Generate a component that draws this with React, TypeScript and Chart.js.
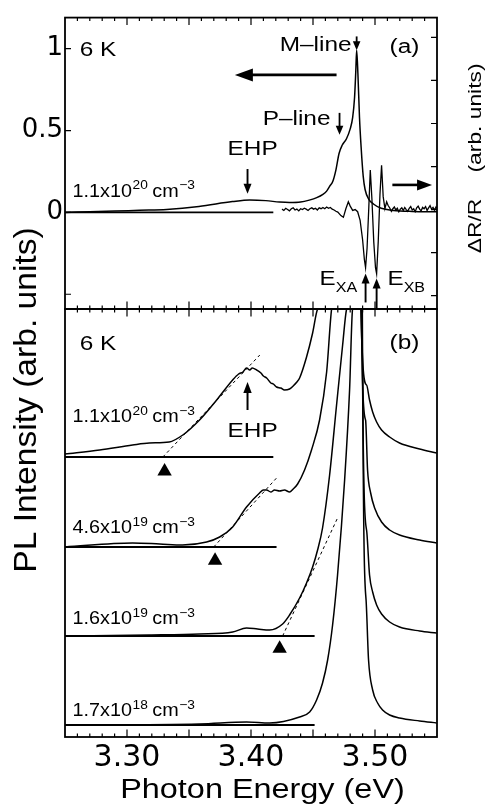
import React, { useEffect, useRef } from 'react';
import { Chart, registerables } from 'chart.js';

Chart.register(...registerables);

// ---------- axes ----------
const ENERGY_MIN = 3.25;
const ENERGY_MAX = 3.55;
const energyTickLabels = [3.3, 3.4, 3.5];

const panelALeftRange = [-0.59, 1.19];
const panelALeftTickLabels = [0, 0.5, 1];
const panelALeftTickMarks = [-0.5, 0, 0.5, 1];
const panelARightRange = [-2.31, 4.46];
const panelARightTickMarks = [-2, -1, 0, 1, 2, 3, 4];
const panelBRange = [0, 4.28];

// ---------- panel (a) ----------
// PL spectrum, 1.1x10^20 cm^-3 : [energy eV, intensity]
const plSpectrumA: [number, number][] = [
  [3.25, 0.0], [3.27, 0.004], [3.29, 0.008], [3.31, 0.013], [3.332, 0.018], [3.358, 0.036],
  [3.385, 0.066], [3.399, 0.076], [3.412, 0.072], [3.423, 0.063], [3.431, 0.06], [3.44, 0.063],
  [3.447, 0.075], [3.453, 0.09], [3.458, 0.11], [3.461, 0.13], [3.4635, 0.16], [3.466, 0.19],
  [3.4685, 0.26], [3.471, 0.36], [3.4735, 0.41], [3.477, 0.45], [3.48, 0.51], [3.482, 0.58],
  [3.4835, 0.7], [3.4845, 0.86], [3.4852, 0.99], [3.4862, 0.85], [3.4875, 0.58], [3.4888, 0.4],
  [3.4905, 0.22], [3.492, 0.14], [3.495, 0.08], [3.499, 0.05], [3.505, 0.025], [3.515, 0.012],
  [3.53, 0.006], [3.55, 0.004],
];
const plZeroLineA: [number, number][] = [[3.25, 0], [3.418, 0]];
// Reflectance modulation dR/R : [energy eV, value]
const reflectanceA: [number, number][] = [
  [3.425, 0.01], [3.4265, -0.02], [3.428, 0.03], [3.4295, 0.0], [3.431, -0.03], [3.4325, 0.02],
  [3.434, 0.04], [3.4355, -0.01], [3.437, 0.01], [3.4385, -0.03], [3.44, 0.02], [3.4415, 0.0],
  [3.443, 0.03], [3.4445, 0.01], [3.446, -0.02], [3.4475, 0.02], [3.449, 0.04], [3.4505, 0.01],
  [3.452, 0.03], [3.4535, -0.01], [3.455, 0.04], [3.4565, 0.02], [3.458, 0.05], [3.4595, 0.02],
  [3.461, 0.06], [3.4625, 0.03], [3.464, 0.05], [3.4655, 0.01], [3.467, -0.01], [3.4685, -0.04],
  [3.47, -0.06], [3.4725, -0.14], [3.4745, -0.18], [3.4765, 0.02], [3.4785, 0.18], [3.48, 0.08],
  [3.482, -0.02], [3.484, 0.0], [3.486, -0.05], [3.488, -0.25], [3.49, -0.7], [3.4914, -1.15],
  [3.4924, -1.35], [3.4936, -0.9], [3.495, 0.05], [3.4962, 0.92], [3.4975, 0.25], [3.499, -0.75],
  [3.5004, -1.35], [3.5013, -1.49], [3.5026, -0.75], [3.504, 0.35], [3.5053, 1.03], [3.5066, 0.3],
  [3.508, 0.02], [3.5094, 0.18], [3.5105, 0.1], [3.512, 0.03], [3.5132, -0.04], [3.5144, 0.02],
  [3.5156, 0.06], [3.5168, -0.01], [3.518, 0.03], [3.5192, -0.05], [3.5204, 0.01], [3.5216, 0.04],
  [3.5228, -0.02], [3.524, 0.05], [3.5252, 0.0], [3.5264, -0.04], [3.5276, 0.03], [3.5288, 0.07],
  [3.53, -0.01], [3.5312, 0.02], [3.5324, -0.05], [3.5336, 0.04], [3.5348, 0.08], [3.536, 0.01],
  [3.5372, -0.03], [3.5384, 0.05], [3.5396, 0.02], [3.5408, 0.07], [3.542, -0.02], [3.5432, 0.04],
  [3.5444, 0.09], [3.5456, 0.01], [3.5468, 0.05], [3.548, -0.01], [3.5492, 0.06], [3.55, 0.03],
];

// ---------- panel (b) ----------
const densityMantissa = ['1.1', '4.6', '1.6', '1.7'];
const densityExponent = ['20', '19', '19', '18'];
const densityLabelY = [3.15, 2.04, 1.13, 0.21];
const spectrumOffsetsB = [2.8, 1.9, 1.01, 0.12];
const baselineEndB = [3.418, 3.4206, 3.4513, 3.4513];

const spectrumB1: [number, number][] = [
  [3.25, 0.03], [3.278, 0.07], [3.3045, 0.12], [3.318, 0.14], [3.334, 0.15], [3.345, 0.22],
  [3.3585, 0.37], [3.3723, 0.57], [3.3852, 0.77], [3.39, 0.83], [3.3935, 0.85], [3.3964, 0.89],
  [3.399, 0.87], [3.401, 0.89], [3.4045, 0.87], [3.408, 0.84], [3.41, 0.81], [3.4126, 0.79],
  [3.416, 0.74], [3.418, 0.73], [3.4206, 0.7], [3.424, 0.69], [3.427, 0.67], [3.4311, 0.68],
  [3.434, 0.71], [3.437, 0.75], [3.4392, 0.79], [3.4448, 1.0], [3.4497, 1.24], [3.4537, 1.48],
  [3.4577, 1.77], [3.4865, 30], [3.4876, 2.07], [3.4932, 0.72], [3.4956, 0.57], [3.4981, 0.45],
  [3.5013, 0.35], [3.5053, 0.27], [3.5118, 0.2], [3.5198, 0.14], [3.536, 0.08], [3.5497, 0.04],
];
const spectrumB2: [number, number][] = [
  [3.25, 0.0], [3.3045, 0.04], [3.3263, 0.03], [3.3448, 0.02], [3.3642, 0.05], [3.3747, 0.1],
  [3.3852, 0.2], [3.3964, 0.4], [3.4069, 0.54], [3.41, 0.57], [3.4126, 0.57], [3.416, 0.55],
  [3.419, 0.57], [3.4231, 0.56], [3.427, 0.57], [3.4311, 0.55], [3.434, 0.58], [3.4376, 0.63],
  [3.4432, 0.77], [3.4488, 0.97], [3.4553, 1.27], [3.461, 1.75], [3.465, 2.38], [3.4674, 2.77],
  [3.487, 30], [3.4884, 2.97], [3.4924, 1.27], [3.494, 0.77], [3.4965, 0.54], [3.4997, 0.39],
  [3.5053, 0.25], [3.5118, 0.17], [3.5198, 0.12], [3.536, 0.07], [3.5497, 0.04],
];
const spectrumB3: [number, number][] = [
  [3.25, 0.0], [3.318, 0.01], [3.3585, 0.02], [3.3852, 0.04], [3.3964, 0.08], [3.4053, 0.07],
  [3.415, 0.06], [3.4255, 0.12], [3.4311, 0.21], [3.4392, 0.38], [3.4448, 0.53], [3.4497, 0.69],
  [3.4537, 0.86], [3.4577, 1.08], [3.4634, 1.61], [3.469, 2.31], [3.4739, 2.91], [3.4771, 3.27],
  [3.4787, 3.56], [3.488, 30], [3.4892, 3.86], [3.4932, 1.06], [3.4956, 0.61], [3.4981, 0.44],
  [3.5013, 0.31], [3.5053, 0.22], [3.5118, 0.14], [3.5198, 0.09], [3.536, 0.05], [3.5497, 0.03],
];
const spectrumB4: [number, number][] = [
  [3.25, 0.0], [3.3585, 0.01], [3.3964, 0.03], [3.415, 0.02], [3.4392, 0.08], [3.4473, 0.13],
  [3.4529, 0.25], [3.4577, 0.42], [3.4618, 0.65], [3.4658, 1.0], [3.4698, 1.5], [3.4755, 2.45],
  [3.4795, 3.35], [3.4819, 4.16], [3.4835, 4.55], [3.4885, 30], [3.4896, 4.75], [3.4928, 1.25],
  [3.4948, 0.65], [3.4981, 0.35], [3.5021, 0.22], [3.5061, 0.15], [3.5118, 0.1], [3.5198, 0.07],
  [3.536, 0.04], [3.5497, 0.02],
];
const spectraB = [spectrumB1, spectrumB2, spectrumB3, spectrumB4];

const tangentB: [number, number][][] = [
  [[3.3289, 0], [3.4071, 1.02]],
  [[3.3699, 0], [3.4206, 0.69]],
  [[3.4255, 0], [3.4698, 1.18]],
];
const onsetEnergyB = [3.3303, 3.371, 3.4231];
const onsetMarkerB = [-0.143, -0.135, -0.125];

// ---------- drawing helpers ----------
const FONT = '"Liberation Sans", Arial, Helvetica, sans-serif';

function drawText(ctx: CanvasRenderingContext2D, s: string, x: number, y: number, size: number,
  sx = 1.2, align: CanvasTextAlign = 'left', rot = 0): number {
  ctx.save();
  ctx.font = `${size}px ${FONT}`;
  const w = ctx.measureText(s).width * sx;
  ctx.translate(x, y);
  if (rot) ctx.rotate(rot);
  ctx.scale(sx, 1);
  ctx.textAlign = align;
  ctx.textBaseline = 'alphabetic';
  ctx.fillStyle = '#000';
  ctx.fillText(s, 0, 0);
  ctx.restore();
  return w;
}

function drawDensity(ctx: CanvasRenderingContext2D, x: number, y: number, mant: string, exp: string) {
  let cx = x;
  cx += drawText(ctx, `${mant}x10`, cx, y, 18, 1.1);
  cx += drawText(ctx, exp, cx + 0.5, y - 7.5, 12.5, 1.1) + 5;
  cx += drawText(ctx, 'cm', cx, y, 18, 1.1);
  drawText(ctx, '\u22123', cx + 0.5, y - 7.5, 12.5, 1.1);
}

function drawArrow(ctx: CanvasRenderingContext2D, x1: number, y1: number, x2: number, y2: number,
  head: number, half: number, lw: number) {
  const a = Math.atan2(y2 - y1, x2 - x1);
  const c = Math.cos(a), s = Math.sin(a);
  ctx.save();
  ctx.strokeStyle = '#000';
  ctx.fillStyle = '#000';
  ctx.lineWidth = lw;
  ctx.beginPath();
  ctx.moveTo(x1, y1);
  ctx.lineTo(x2 - c * head * 0.8, y2 - s * head * 0.8);
  ctx.stroke();
  ctx.beginPath();
  ctx.moveTo(x2, y2);
  ctx.lineTo(x2 - c * head - s * half, y2 - s * head + c * half);
  ctx.lineTo(x2 - c * head + s * half, y2 - s * head - c * half);
  ctx.closePath();
  ctx.fill();
  ctx.restore();
}

function energyTicks(ctx: CanvasRenderingContext2D, px: (e: number) => number, yEdge: number, dir: number) {
  const i0 = Math.round(ENERGY_MIN * 100) + 1;
  const i1 = Math.round(ENERGY_MAX * 100);
  for (let i = i0; i < i1; i++) {
    const len = i % 5 === 0 ? 7.5 : 3.5;
    const xx = px(i / 100);
    ctx.moveTo(xx, yEdge);
    ctx.lineTo(xx, yEdge + dir * len);
  }
}

const toXY = (arr: [number, number][], off = 0) => arr.map(([x, y]) => ({ x, y: y + off }));

const lineDs = (data: any[], extra: any = {}) => ({
  data,
  borderColor: '#000',
  backgroundColor: '#000',
  borderWidth: 1.5,
  pointRadius: 0,
  fill: false,
  tension: 0,
  ...extra,
});

// ---------- plugins ----------
const panelAPlugin = {
  id: 'panelA',
  afterDraw(chart: any) {
    const { ctx, chartArea: a } = chart;
    const x = chart.scales.x, y = chart.scales.y, yr = chart.scales.yR;
    const px = (e: number) => x.getPixelForValue(e);
    const py = (v: number) => y.getPixelForValue(v);
    ctx.save();
    ctx.strokeStyle = '#000';
    ctx.lineWidth = 1.8;
    ctx.strokeRect(a.left, a.top, a.right - a.left, a.bottom - a.top);
    ctx.lineWidth = 1.2;
    ctx.beginPath();
    energyTicks(ctx, px, a.top, 1);
    energyTicks(ctx, px, a.bottom, -1);
    panelALeftTickMarks.forEach((v) => { ctx.moveTo(a.left, py(v)); ctx.lineTo(a.left + 6, py(v)); });
    panelARightTickMarks.forEach((v) => {
      const yy = yr.getPixelForValue(v);
      ctx.moveTo(a.right, yy); ctx.lineTo(a.right - 6, yy);
    });
    ctx.stroke();
    ctx.restore();

    drawText(ctx, '6 K', px(3.2618), py(0.955), 20, 1.22);
    drawText(ctx, '(a)', px(3.5117), py(0.974), 20, 1.22);
    drawText(ctx, 'M\u2013line', px(3.4231), py(0.986), 20, 1.22);
    drawText(ctx, 'P\u2013line', px(3.4094), py(0.535), 20, 1.22);
    drawText(ctx, 'EHP', px(3.3811), py(0.348), 20, 1.22);
    drawDensity(ctx, px(3.2561), py(0.096), densityMantissa[0], densityExponent[0]);

    const wA = drawText(ctx, 'E', px(3.4553), py(-0.446), 21, 1.15);
    drawText(ctx, 'XA', px(3.4553) + wA, py(-0.446) + 7, 14, 1.15);
    const wB = drawText(ctx, 'E', px(3.5101), py(-0.446), 21, 1.15);
    drawText(ctx, 'XB', px(3.5101) + wB, py(-0.446) + 7, 14, 1.15);

    drawArrow(ctx, px(3.469), py(0.84), px(3.387), py(0.84), 18, 6.5, 2.6);
    drawArrow(ctx, px(3.514), py(0.168), px(3.546), py(0.168), 15, 5.5, 2.6);
    drawArrow(ctx, px(3.4852), py(1.075), px(3.4852), py(0.99), 9, 3.8, 1.8);
    drawArrow(ctx, px(3.4714), py(0.608), px(3.4714), py(0.475), 9, 3.8, 1.8);
    drawArrow(ctx, px(3.3972), py(0.265), px(3.3972), py(0.114), 10, 4, 1.9);
    drawArrow(ctx, px(3.4924), py(-0.55), px(3.4924), py(-0.373), 10, 4, 1.9);
    drawArrow(ctx, px(3.5013), py(-0.59), px(3.5013), py(-0.403), 10, 4, 1.9);

    drawText(ctx, '(arb. units)', 481, 118, 19, 1.2, 'center', -Math.PI / 2);
    drawText(ctx, '\u0394R/R', 481, 226, 19, 1.2, 'center', -Math.PI / 2);
    drawText(ctx, 'PL Intensity (arb. units)', 36, 400, 32, 1.05, 'center', -Math.PI / 2);
  },
};

const panelBPlugin = {
  id: 'panelB',
  afterDraw(chart: any) {
    const { ctx, chartArea: a } = chart;
    const x = chart.scales.x, y = chart.scales.y;
    const px = (e: number) => x.getPixelForValue(e);
    const py = (v: number) => y.getPixelForValue(v);
    ctx.save();
    ctx.strokeStyle = '#000';
    ctx.lineWidth = 1.8;
    ctx.strokeRect(a.left, a.top, a.right - a.left, a.bottom - a.top);
    ctx.lineWidth = 1.2;
    ctx.beginPath();
    energyTicks(ctx, px, a.top, 1);
    energyTicks(ctx, px, a.bottom, -1);
    ctx.stroke();
    ctx.restore();

    drawText(ctx, '6 K', px(3.2618), py(3.87), 20, 1.22);
    drawText(ctx, '(b)', px(3.5117), py(3.88), 20, 1.22);
    densityMantissa.forEach((m, i) => drawDensity(ctx, px(3.2561), py(densityLabelY[i]), m, densityExponent[i]));
    drawText(ctx, 'EHP', px(3.3811), py(3.0), 20, 1.22);
    drawArrow(ctx, px(3.3972), py(3.27), px(3.3972), py(3.55), 11, 4.2, 2);

    drawText(ctx, 'Photon Energy (eV)', 262.5, 798, 27, 1.2, 'center');
  },
};

// ---------- component ----------
export default function App() {
  const refA = useRef<HTMLCanvasElement>(null);
  const refB = useRef<HTMLCanvasElement>(null);

  useEffect(() => {
    const common = {
      responsive: false,
      animation: false as const,
      devicePixelRatio: 1,
      events: [] as any[],
    };

    const chartA = new Chart(refA.current as HTMLCanvasElement, {
      type: 'line',
      data: {
        datasets: [
          lineDs(toXY(plZeroLineA), { borderWidth: 1.8, yAxisID: 'y' }),
          lineDs(toXY(plSpectrumA), { cubicInterpolationMode: 'monotone', yAxisID: 'y' }),
          lineDs(toXY(reflectanceA), { yAxisID: 'yR', borderWidth: 1.3 }),
        ],
      },
      options: {
        ...common,
        layout: { padding: { top: 13, bottom: 503, left: 0, right: 49 } },
        plugins: { legend: { display: false }, tooltip: { enabled: false } },
        scales: {
          x: { type: 'linear', min: ENERGY_MIN, max: ENERGY_MAX, display: false },
          y: {
            type: 'linear',
            position: 'left',
            min: panelALeftRange[0],
            max: panelALeftRange[1],
            afterFit: (s: any) => { s.width = 65; },
            afterBuildTicks: (s: any) => { s.ticks = panelALeftTickLabels.map((v) => ({ value: v })); },
            ticks: {
              callback: (v: any) => String(v),
              font: { family: '"DejaVu Sans", sans-serif', size: 26 },
              color: '#000',
              padding: 2,
            },
            grid: { display: false, drawTicks: false },
            border: { display: false },
          },
          yR: {
            type: 'linear',
            position: 'right',
            min: panelARightRange[0],
            max: panelARightRange[1],
            display: false,
          },
        },
      } as any,
      plugins: [panelAPlugin],
    });

    const datasetsB: any[] = [];
    spectraB.forEach((sp, i) => {
      const off = spectrumOffsetsB[i];
      datasetsB.push(lineDs([{ x: ENERGY_MIN, y: off }, { x: baselineEndB[i], y: off }], { borderWidth: 1.8 }));
      datasetsB.push(lineDs(toXY(sp, off), { cubicInterpolationMode: 'monotone' }));
    });
    tangentB.forEach((t, i) => {
      datasetsB.push(lineDs(toXY(t, spectrumOffsetsB[i]), { borderWidth: 1, borderDash: [3, 3] }));
    });
    datasetsB.push({
      data: onsetEnergyB.map((e, i) => ({ x: e, y: spectrumOffsetsB[i] + onsetMarkerB[i] })),
      showLine: false,
      pointStyle: 'triangle',
      pointRadius: 8.3,
      pointBackgroundColor: '#000',
      pointBorderColor: '#000',
      pointBorderWidth: 0,
    });

    const chartB = new Chart(refB.current as HTMLCanvasElement, {
      type: 'line',
      data: { datasets: datasetsB },
      options: {
        ...common,
        layout: { padding: { top: 309, bottom: 0, left: 65, right: 49 } },
        plugins: { legend: { display: false }, tooltip: { enabled: false } },
        scales: {
          x: {
            type: 'linear',
            position: 'bottom',
            min: ENERGY_MIN,
            max: ENERGY_MAX,
            afterFit: (s: any) => { s.height = 75; },
            afterBuildTicks: (s: any) => { s.ticks = energyTickLabels.map((v) => ({ value: v })); },
            ticks: {
              callback: (v: any) => Number(v).toFixed(2),
              font: { family: '"DejaVu Sans", sans-serif', size: 30 },
              color: '#000',
              padding: 3,
              maxRotation: 0,
              autoSkip: false,
            },
            grid: { display: false, drawTicks: false },
            border: { display: false },
          },
          y: { type: 'linear', min: panelBRange[0], max: panelBRange[1], display: false },
        },
      } as any,
      plugins: [panelBPlugin],
    });

    return () => {
      chartA.destroy();
      chartB.destroy();
    };
  }, []);

  return (
    <div style={{ position: 'fixed', left: 0, top: 0, width: 486, height: 812, background: '#fff' }}>
      <canvas ref={refA} width={486} height={812} style={{ position: 'absolute', left: 0, top: 0 }} />
      <canvas ref={refB} width={486} height={812} style={{ position: 'absolute', left: 0, top: 0 }} />
    </div>
  );
}
